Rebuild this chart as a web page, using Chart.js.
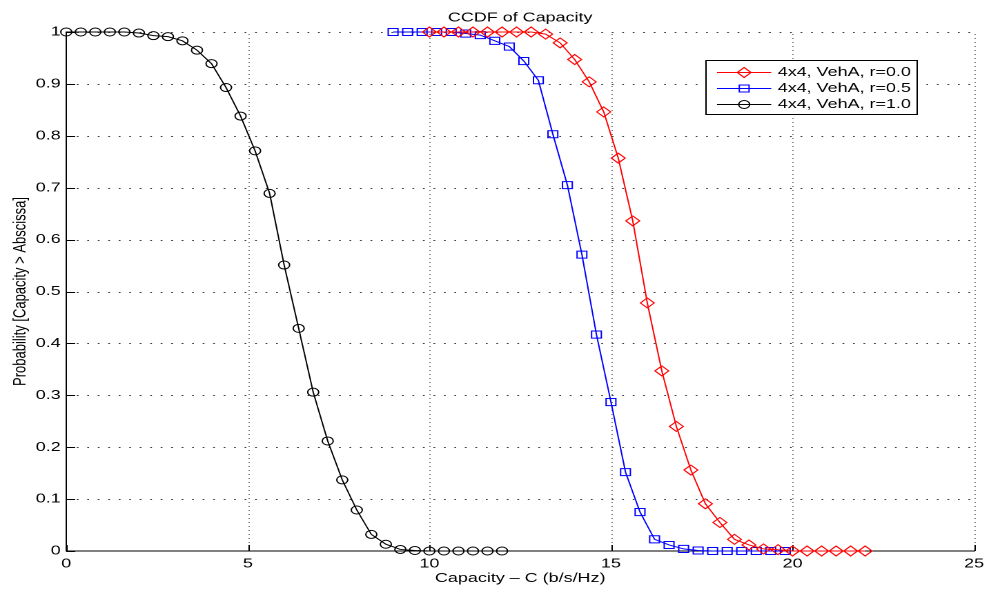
<!DOCTYPE html>
<html><head><meta charset="utf-8">
<script src="https://cdn.jsdelivr.net/npm/chart.js@4.4.0/dist/chart.umd.min.js"></script>
<style>
html,body{margin:0;padding:0;background:#fff;overflow:hidden;}
#wrap{position:absolute;left:0;top:0;width:718px;height:589px;transform:scaleX(1.38022);transform-origin:0 0;}
</style></head><body>
<div id="wrap"><canvas id="c"></canvas></div>
<script>
// ---- data ----
const chartTitle = 'CCDF of Capacity';
const xAxisTitle = 'Capacity \u2013 C (b/s/Hz)';
const yAxisTitle = 'Probability [Capacity > Abscissa]';
const seriesNames = ['4x4, VehA, r=0.0', '4x4, VehA, r=0.5', '4x4, VehA, r=1.0'];

const capR = [10.0,10.4,10.8,11.2,11.6,12.0,12.4,12.8,13.2,13.6,14.0,14.4,14.8,15.2,15.6,16.0,16.4,16.8,17.2,17.6,18.0,18.4,18.8,19.2,19.6,20.0,20.4,20.8,21.2,21.6,22.0];
const probR = [1,1,1,1,1,1,1,1,0.996,0.979,0.947,0.904,0.846,0.757,0.636,0.478,0.347,0.240,0.156,0.091,0.055,0.0225,0.0116,0.004,0.0025,0,0,0,0,0,0];

const capB = [9.0,9.4,9.8,10.2,10.6,11.0,11.4,11.8,12.2,12.6,13.0,13.4,13.8,14.2,14.6,15.0,15.4,15.8,16.2,16.6,17.0,17.4,17.8,18.2,18.6,19.0,19.4,19.8];
const probB = [1,1,1,1,1,0.997,0.994,0.983,0.972,0.944,0.907,0.803,0.705,0.571,0.417,0.287,0.152,0.075,0.0225,0.0116,0.004,0.001,0,0,0,0,0,0];

const capK = [0,0.4,0.8,1.2,1.6,2.0,2.4,2.8,3.2,3.6,4.0,4.4,4.8,5.2,5.6,6.0,6.4,6.8,7.2,7.6,8.0,8.4,8.8,9.2,9.6,10.0,10.4,10.8,11.2,11.6,12.0];
const probK = [1,1,1,1,1,0.998,0.993,0.991,0.983,0.965,0.939,0.893,0.838,0.771,0.689,0.551,0.429,0.306,0.212,0.137,0.079,0.032,0.013,0.003,0.001,0,0,0,0,0,0];

const xTicks = [0,5,10,15,20,25];
const xTickLabels = ['0','5','10','15','20','25'];
const yTicks = [0,0.1,0.2,0.3,0.4,0.5,0.6,0.7,0.8,0.9,1];
const yTickLabels = ['0','0.1','0.2','0.3','0.4','0.5','0.6','0.7','0.8','0.9','1'];

// ---- helpers ----
function pts(xs, ys){ return xs.map((x,i)=>({x:x, y:ys[i]})); }

function drawMarker(ctx, style, r, x, y){
  ctx.beginPath();
  if (style === 'circle') {
    ctx.arc(x, y, r, 0, Math.PI*2);
  } else if (style === 'rect') {
    const s = Math.SQRT1_2 * r;
    ctx.rect(x - s, y - s, 2*s, 2*s);
  } else {
    ctx.moveTo(x - r, y); ctx.lineTo(x, y - r); ctx.lineTo(x + r, y); ctx.lineTo(x, y + r); ctx.closePath();
  }
  ctx.stroke();
}

const gridPlugin = {
  id: 'matlabGrid',
  beforeDatasetsDraw(chart){
    const {ctx, chartArea: a, scales: {x, y}} = chart;
    ctx.save();
    ctx.lineWidth = 1;
    // vertical dotted grid
    ctx.strokeStyle = '#808080';
    ctx.setLineDash([1,3]);
    xTicks.forEach(v => {
      if (v === x.min) return;
      const px = Math.round(x.getPixelForValue(v)) + 0.5;
      ctx.beginPath(); ctx.moveTo(px, a.bottom); ctx.lineTo(px, a.top); ctx.stroke();
    });
    // horizontal dotted grid
    ctx.strokeStyle = '#404040';
    ctx.setLineDash([1.3,6.3]);
    yTicks.forEach(v => {
      if (v === y.min) return;
      const py = Math.round(y.getPixelForValue(v)) + 0.5;
      ctx.beginPath(); ctx.moveTo(a.left, py); ctx.lineTo(a.right, py); ctx.stroke();
    });
    // inward tick marks
    ctx.setLineDash([]);
    ctx.strokeStyle = '#000';
    xTicks.forEach(v => {
      const px = Math.round(x.getPixelForValue(v)) + 0.5;
      ctx.beginPath(); ctx.moveTo(px, a.bottom); ctx.lineTo(px, a.bottom - 6); ctx.stroke();
    });
    yTicks.forEach(v => {
      const py = Math.round(y.getPixelForValue(v)) + 0.5;
      ctx.beginPath(); ctx.moveTo(a.left, py); ctx.lineTo(a.left + 6.5, py); ctx.stroke();
    });
    ctx.restore();
  }
};

const legendPlugin = {
  id: 'matlabLegend',
  afterDraw(chart){
    const {ctx, chartArea: a} = chart;
    const w = 153.3, h = 54;
    const left = a.right - 41 - w, top = a.top + 28;
    ctx.save();
    ctx.fillStyle = '#fff';
    ctx.fillRect(left, top, w, h);
    ctx.strokeStyle = '#000';
    ctx.lineWidth = 1;
    ctx.strokeRect(Math.round(left)+0.5, Math.round(top)+0.5, Math.round(w), Math.round(h));
    ctx.font = '13px "Liberation Sans", Arial, Helvetica, sans-serif';
    ctx.textBaseline = 'middle';
    ctx.textAlign = 'left';
    chart.data.datasets.forEach((ds, i) => {
      const yy = Math.round(top + 12 + i*15.8) + 0.5;
      ctx.strokeStyle = ds.borderColor;
      ctx.lineWidth = 1;
      ctx.beginPath(); ctx.moveTo(left + 8, yy); ctx.lineTo(left + 47.3, yy); ctx.stroke();
      drawMarker(ctx, ds.pointStyle, ds.pointRadius, left + 27.7, yy);
      ctx.fillStyle = '#000';
      ctx.fillText(ds.label, left + 52, yy);
    });
    ctx.restore();
  }
};

Chart.defaults.font.family = '"Liberation Sans", Arial, Helvetica, sans-serif';
Chart.defaults.font.size = 13;
Chart.defaults.color = '#000';

function ds(label, xs, ys, color, style, r){
  return {
    label: label, data: pts(xs, ys),
    borderColor: color, backgroundColor: color, borderWidth: 1,
    pointStyle: style, pointRadius: r, pointHoverRadius: r,
    pointBorderColor: color, pointBackgroundColor: 'rgba(0,0,0,0)', pointBorderWidth: 1,
    tension: 0, clip: false, fill: false
  };
}

function labelFor(ticksArr, labelsArr){
  return function(value){
    const i = ticksArr.findIndex(t => Math.abs(t - value) < 1e-9);
    return i >= 0 ? labelsArr[i] : '';
  };
}

new Chart(document.getElementById('c'), {
  type: 'line',
  data: {
    datasets: [
      ds(seriesNames[0], capR, probR, '#ff0000', 'rectRot', 5),
      ds(seriesNames[1], capB, probB, '#0000ff', 'rect', 5),
      ds(seriesNames[2], capK, probK, '#000000', 'circle', 4)
    ]
  },
  options: {
    responsive: true, maintainAspectRatio: false, animation: false,
    devicePixelRatio: 2,
    events: [],
    layout: { padding: { left: 0, right: 8.7, top: 0, bottom: 0 } },
    plugins: {
      legend: { display: false },
      tooltip: { enabled: false },
      title: { display: true, text: chartTitle, fullSize: false, color: '#000',
               font: { size: 13, weight: 'normal' }, padding: { top: 10, bottom: 6.4 } }
    },
    scales: {
      x: {
        type: 'linear', position: 'bottom', min: 0, max: 25,
        afterBuildTicks: s => { s.ticks = xTicks.map(v => ({value: v})); },
        afterFit: s => { s.height = 38; },
        grid: { display: false, drawTicks: false },
        border: { display: true, color: '#000', width: 1 },
        ticks: { padding: 5, color: '#000', maxRotation: 0, autoSkip: false, font: { size: 13 },
                 callback: labelFor(xTicks, xTickLabels) },
        title: { display: true, text: xAxisTitle, color: '#000', font: { size: 13 }, padding: { top: 0, bottom: 3 } }
      },
      y: {
        type: 'linear', position: 'left', min: 0, max: 1,
        afterBuildTicks: s => { s.ticks = yTicks.map(v => ({value: v})); },
        afterFit: s => { s.width = 48; },
        grid: { display: false, drawTicks: false },
        border: { display: true, color: '#000', width: 1 },
        ticks: { padding: 4, color: '#000', autoSkip: false, font: { size: 13 },
                 callback: labelFor(yTicks, yTickLabels) },
        title: { display: true, text: yAxisTitle, color: '#000', font: { size: 13 }, padding: { top: 7, bottom: 0 } }
      }
    }
  },
  plugins: [gridPlugin, legendPlugin]
});
</script>
</body></html>
